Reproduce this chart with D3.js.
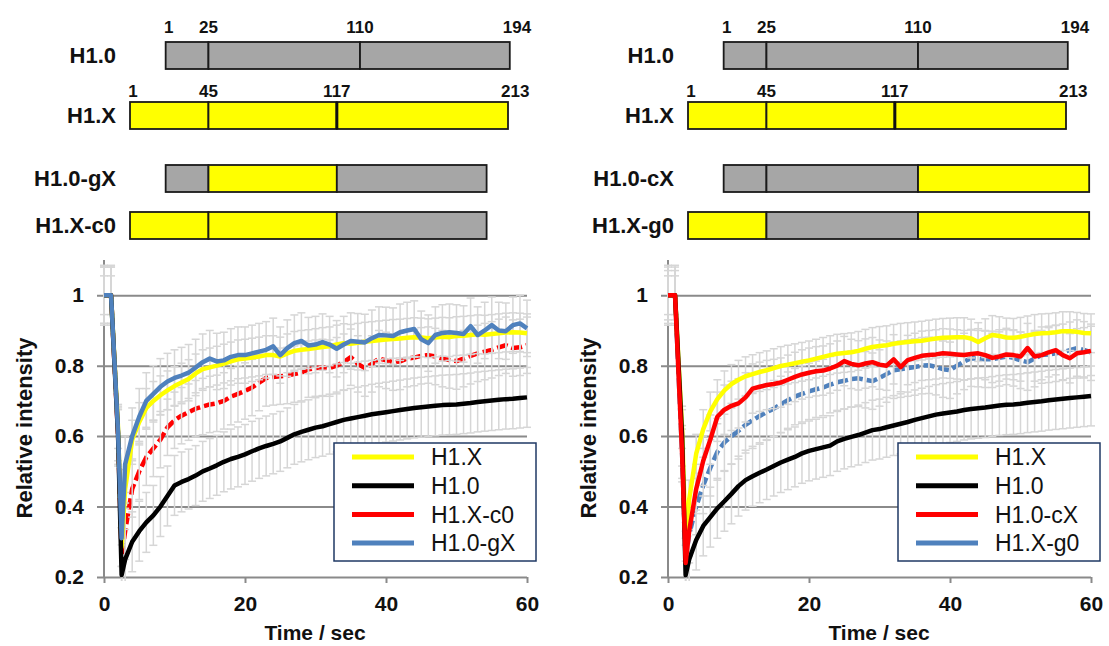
<!DOCTYPE html>
<html>
<head>
<meta charset="utf-8">
<script src="https://cdn.jsdelivr.net/npm/d3@7"></script>
<style>
  html, body { margin: 0; padding: 0; background: #fff; }
  svg { display: block; font-family: "Liberation Sans", Arial, sans-serif; }
</style>
</head>
<body>
<svg id="fig" width="1109" height="646"></svg>
<script>
// -- Data ------------------------------------------------------------
var TIME = [0, 1, 2, 2.5, 3,
  4, 5, 6, 7, 8, 9, 10, 11, 12, 13,
  14, 15, 16, 17, 18, 19, 20, 21, 22, 23,
  24, 25, 26, 27, 28, 29, 30, 31, 32, 33,
  34, 35, 36, 37, 38, 39, 40, 41, 42, 43,
  44, 45, 46, 47, 48, 49, 50, 51, 52, 53,
  54, 55, 56, 57, 58, 59, 60];

var X_TICKS = [0, 20, 40, 60];
var Y_TICKS = [0.2, 0.4, 0.6, 0.8, 1];

var SERIES_COLORS = ["#ffff00", "#000000", "#ff0000", "#4f81bd"];

// left panel
var LEFT_NAMES = ["H1.X", "H1.0", "H1.X-c0", "H1.0-gX"];
var LEFT_H1X = [1, 1, 0.62, 0.285, 0.45,
  0.59, 0.64, 0.68, 0.70, 0.716, 0.73, 0.742, 0.752, 0.762, 0.778,
  0.79, 0.795, 0.80, 0.806, 0.812, 0.818, 0.82, 0.823, 0.826, 0.83,
  0.83, 0.826, 0.835, 0.842, 0.845, 0.847, 0.85, 0.853, 0.855, 0.86,
  0.864, 0.862, 0.865, 0.868, 0.87, 0.872, 0.874, 0.876, 0.877, 0.879,
  0.881, 0.88, 0.878, 0.88, 0.882, 0.881, 0.884, 0.885, 0.887, 0.889,
  0.888, 0.89, 0.892, 0.894, 0.895, 0.894, 0.892];
var LEFT_H10 = [1, 1, 0.6, 0.206, 0.25,
  0.3, 0.33, 0.355, 0.375, 0.4, 0.43, 0.46, 0.47, 0.478, 0.488,
  0.5, 0.508, 0.517, 0.527, 0.535, 0.541, 0.548, 0.557, 0.565, 0.572,
  0.578, 0.585, 0.595, 0.605, 0.612, 0.618, 0.624, 0.628, 0.634, 0.64,
  0.646, 0.65, 0.654, 0.658, 0.662, 0.665, 0.668, 0.671, 0.674, 0.677,
  0.68, 0.682, 0.684, 0.686, 0.688, 0.689, 0.69, 0.692, 0.694, 0.697,
  0.699, 0.701, 0.703, 0.705, 0.706, 0.708, 0.71];
var LEFT_H1X_C0 = [1, 1, 0.6, 0.26, 0.33,
  0.45, 0.5, 0.54, 0.565, 0.59, 0.625, 0.645, 0.658, 0.668, 0.678,
  0.684, 0.69, 0.693, 0.7, 0.712, 0.72, 0.728, 0.738, 0.752, 0.765,
  0.768, 0.77, 0.772, 0.776, 0.78, 0.79, 0.793, 0.795, 0.793, 0.8,
  0.81, 0.824, 0.805, 0.793, 0.805, 0.82, 0.815, 0.81, 0.812, 0.82,
  0.823, 0.828, 0.83, 0.826, 0.82, 0.816, 0.813, 0.82, 0.828, 0.835,
  0.84, 0.845, 0.852, 0.858, 0.85, 0.852, 0.858];
var LEFT_H10_GX = [1, 1, 0.61, 0.31, 0.52,
  0.6, 0.655, 0.70, 0.72, 0.74, 0.755, 0.765, 0.772, 0.78, 0.795,
  0.81, 0.82, 0.812, 0.815, 0.825, 0.83, 0.83, 0.835, 0.84, 0.845,
  0.855, 0.83, 0.85, 0.864, 0.87, 0.857, 0.86, 0.867, 0.86, 0.848,
  0.86, 0.87, 0.868, 0.866, 0.878, 0.887, 0.886, 0.884, 0.895, 0.9,
  0.904, 0.875, 0.864, 0.887, 0.893, 0.895, 0.893, 0.89, 0.912, 0.887,
  0.9, 0.915, 0.9, 0.898, 0.915, 0.92, 0.906];
var LEFT_ERR = [0.055, 0.085, 0.08, 0.08];

// right panel
var RIGHT_NAMES = ["H1.X", "H1.0", "H1.0-cX", "H1.X-g0"];
var RIGHT_H1X = [1, 1, 0.62, 0.3, 0.42,
  0.55, 0.62, 0.67, 0.705, 0.73, 0.748, 0.76, 0.77, 0.776, 0.782,
  0.787, 0.793, 0.799, 0.803, 0.807, 0.811, 0.815, 0.82, 0.825, 0.83,
  0.834, 0.836, 0.838, 0.842, 0.848, 0.853, 0.856, 0.858, 0.862, 0.865,
  0.867, 0.869, 0.871, 0.874, 0.877, 0.879, 0.88, 0.881, 0.881, 0.877,
  0.867, 0.878, 0.887, 0.884, 0.88, 0.879, 0.882, 0.886, 0.89, 0.892,
  0.893, 0.895, 0.898, 0.898, 0.896, 0.893, 0.892];
var RIGHT_H10 = [1, 1, 0.6, 0.205, 0.25,
  0.305, 0.345, 0.37, 0.395, 0.415, 0.436, 0.458, 0.475, 0.486, 0.496,
  0.505, 0.515, 0.525, 0.533, 0.541, 0.551, 0.558, 0.563, 0.568, 0.573,
  0.585, 0.592, 0.598, 0.603, 0.61, 0.617, 0.62, 0.625, 0.63, 0.635,
  0.64, 0.646, 0.651, 0.656, 0.661, 0.664, 0.667, 0.67, 0.674, 0.677,
  0.679, 0.681, 0.684, 0.687, 0.689, 0.69, 0.692, 0.695, 0.697, 0.699,
  0.702, 0.704, 0.706, 0.708, 0.71, 0.712, 0.714];
var RIGHT_H10_CX = [1, 1, 0.55, 0.24, 0.33,
  0.45, 0.53, 0.59, 0.655, 0.675, 0.686, 0.693, 0.71, 0.735, 0.74,
  0.745, 0.748, 0.752, 0.76, 0.768, 0.775, 0.78, 0.784, 0.786, 0.792,
  0.8, 0.813, 0.805, 0.801, 0.806, 0.81, 0.803, 0.8, 0.818, 0.796,
  0.816, 0.822, 0.828, 0.83, 0.832, 0.835, 0.834, 0.832, 0.83, 0.833,
  0.835, 0.83, 0.822, 0.826, 0.832, 0.83, 0.826, 0.85, 0.826, 0.83,
  0.838, 0.844, 0.83, 0.821, 0.835, 0.838, 0.842];
var RIGHT_H1X_G0 = [1, 1, 0.55, 0.25, 0.32,
  0.4, 0.46, 0.51, 0.555, 0.582, 0.6, 0.615, 0.632, 0.645, 0.657,
  0.668, 0.678, 0.69, 0.702, 0.712, 0.72, 0.727, 0.733, 0.738, 0.746,
  0.753, 0.757, 0.762, 0.764, 0.76, 0.756, 0.765, 0.776, 0.787, 0.79,
  0.793, 0.796, 0.8, 0.801, 0.797, 0.79, 0.787, 0.8, 0.812, 0.821,
  0.82, 0.818, 0.818, 0.822, 0.826, 0.822, 0.815, 0.81, 0.82, 0.83,
  0.832, 0.835, 0.838, 0.844, 0.85, 0.845, 0.838];
var RIGHT_ERR = [0.055, 0.085, 0.07, 0.08];

// domain boundaries (residue numbers): N-tail | globular | C-tail
var H10_BOUNDS = [1, 25, 110, 194];
var H1X_BOUNDS = [1, 45, 117, 213];

// constructs: each segment = [source protein, domain index]
var LEFT_CONSTRUCTS = [
  { name: "H1.0",    segs: [["H1.0", 0], ["H1.0", 1], ["H1.0", 2]], numbers: H10_BOUNDS },
  { name: "H1.X",    segs: [["H1.X", 0], ["H1.X", 1], ["H1.X", 2]], numbers: H1X_BOUNDS },
  { name: "H1.0-gX", segs: [["H1.0", 0], ["H1.X", 1], ["H1.0", 2]] },
  { name: "H1.X-c0", segs: [["H1.X", 0], ["H1.X", 1], ["H1.0", 2]] }
];
var RIGHT_CONSTRUCTS = [
  { name: "H1.0",    segs: [["H1.0", 0], ["H1.0", 1], ["H1.0", 2]], numbers: H10_BOUNDS },
  { name: "H1.X",    segs: [["H1.X", 0], ["H1.X", 1], ["H1.X", 2]], numbers: H1X_BOUNDS },
  { name: "H1.0-cX", segs: [["H1.0", 0], ["H1.0", 1], ["H1.X", 2]] },
  { name: "H1.X-g0", segs: [["H1.X", 0], ["H1.0", 1], ["H1.X", 2]] }
];

// -- Styling -----------------------------------------------------------
var FONT = "'Liberation Sans', Arial, sans-serif";
var SEG_COLORS = { "H1.0": "#a6a6a6", "H1.X": "#ffff00" };
var BOUNDS = { "H1.0": H10_BOUNDS, "H1.X": H1X_BOUNDS };
var GRID = "#8a8a8a";
var ERRBAR = "#d6d6d6";

var svg = d3.select("#fig");

// -- Domain diagrams -------------------------------------------------
function drawDiagram(dx, constructs) {
  // residues counted from the start of the globular domain
  var rs = d3.scaleLinear().domain([-44, 168]).range([130 + dx, 508 + dx]);
  var rowY = [42, 102, 165, 212];
  var numGap = [9, 5];
  var rowH = 27;
  var g = svg.append("g");

  constructs.forEach(function (c, ci) {
    var y0 = rowY[ci];
    var lens = c.segs.map(function (s) {
      var b = BOUNDS[s[0]];
      return b[s[1] + 1] - b[s[1]];
    });
    var edges = [-lens[0]];
    lens.forEach(function (l, i) { edges.push(edges[i] + l); });

    c.segs.forEach(function (s, i) {
      g.append("rect")
        .attr("x", rs(edges[i]))
        .attr("y", y0)
        .attr("width", rs(edges[i + 1]) - rs(edges[i]))
        .attr("height", rowH)
        .attr("fill", SEG_COLORS[s[0]])
        .attr("stroke", "#1a1a1a")
        .attr("stroke-width", 1.8);
    });

    // the full H1.X has a heavier globular/C-tail divider
    if (c.numbers === H1X_BOUNDS) {
      g.append("line")
        .attr("x1", rs(edges[2])).attr("x2", rs(edges[2]))
        .attr("y1", y0).attr("y2", y0 + rowH)
        .attr("stroke", "#111").attr("stroke-width", 3);
    }

    g.append("text")
      .attr("x", 116 + dx).attr("y", y0 + rowH / 2)
      .attr("dy", "0.36em")
      .attr("text-anchor", "end")
      .attr("font-family", FONT).attr("font-weight", "bold")
      .attr("font-size", "22px").attr("fill", "#111")
      .text(c.name);

    if (c.numbers) {
      c.numbers.forEach(function (n, i) {
        var px = rs(edges[i]);
        var anchor = "middle";
        if (i === 0) px += 3;
        if (i === c.numbers.length - 1) { anchor = "start"; px -= 7; }
        g.append("text")
          .attr("x", px).attr("y", y0 - numGap[ci])
          .attr("text-anchor", anchor)
          .attr("font-family", FONT).attr("font-weight", "bold")
          .attr("font-size", "17px").attr("fill", "#111")
          .text(n);
      });
    }
  });
}

// -- Recovery charts -------------------------------------------------
function drawChart(ox, names, series, errs, dashIdx) {
  var W = 423;
  var x = d3.scaleLinear().domain([0, 60]).range([ox, ox + W]);
  var y = d3.scaleLinear().domain([0.2, 1.1]).range([577, 260]);
  var g = svg.append("g");

  // gridlines + y ticks
  var yAxis = d3.axisLeft(y).tickValues(Y_TICKS)
    .tickSizeInner(-W).tickSizeOuter(0)
    .tickFormat(function (d) { return d === 1 ? "1" : d3.format(".1f")(d); });
  var ya = g.append("g").attr("transform", "translate(" + ox + ",0)").call(yAxis);
  ya.select(".domain").remove();
  ya.selectAll(".tick line").attr("x1", -7).attr("x2", W)
    .attr("stroke", GRID).attr("stroke-width", 2);
  ya.selectAll(".tick text").attr("x", -20)
    .attr("font-family", FONT).attr("font-weight", "bold")
    .attr("font-size", "21px").attr("fill", "#111");

  // y axis line
  g.append("line")
    .attr("x1", x(0)).attr("x2", x(0))
    .attr("y1", y(1.1)).attr("y2", y(0.2))
    .attr("stroke", GRID).attr("stroke-width", 2);

  // x ticks
  var xAxis = d3.axisBottom(x).tickValues(X_TICKS).tickSize(6).tickSizeOuter(0);
  var xa = g.append("g").attr("transform", "translate(0," + y(0.2) + ")").call(xAxis);
  xa.select(".domain").remove();
  xa.selectAll(".tick line").attr("stroke", GRID).attr("stroke-width", 2);
  xa.selectAll(".tick text").attr("y", 19)
    .attr("font-family", FONT).attr("font-weight", "bold")
    .attr("font-size", "21px").attr("fill", "#111");

  // axis titles
  g.append("text")
    .attr("transform", "translate(" + (ox - 80) + "," + 428 + ") rotate(-90)")
    .attr("text-anchor", "middle").attr("dy", "0.36em")
    .attr("font-family", FONT).attr("font-weight", "bold")
    .attr("font-size", "22px").attr("fill", "#111")
    .text("Relative intensity");
  g.append("text")
    .attr("x", ox + 211).attr("y", 640)
    .attr("text-anchor", "middle")
    .attr("font-family", FONT).attr("font-weight", "bold")
    .attr("font-size", "21px").attr("fill", "#111")
    .text("Time / sec");

  var clipId = "clip" + ox;
  svg.append("clipPath").attr("id", clipId).append("rect")
    .attr("x", x(0) - 6).attr("y", y(1.1)).attr("width", W + 12).attr("height", y(0.2) - y(1.1) + 4);
  var plot = g.append("g").attr("clip-path", "url(#" + clipId + ")");

  var line = d3.line()
    .x(function (d, i) { return x(TIME[i]); })
    .y(function (d) { return y(d); });

  function drawLine(si) {
    plot.append("path")
      .datum(series[si])
      .attr("fill", "none")
      .attr("stroke", SERIES_COLORS[si])
      .attr("stroke-width", 4.5)
      .attr("stroke-linejoin", "round")
      .attr("stroke-dasharray", si === dashIdx ? "11 4" : null)
      .attr("d", line);
  }

  // obscured series sits below the error bars
  drawLine(dashIdx);

  // error bars
  series.forEach(function (vals, si) {
    var eb = plot.append("g").attr("stroke", ERRBAR).attr("stroke-width", 1.5);
    vals.forEach(function (v, i) {
      var cx = x(TIME[i]);
      var lo = y(v - errs[si]), hi = y(v + errs[si]);
      eb.append("line").attr("x1", cx).attr("x2", cx).attr("y1", lo).attr("y2", hi);
      eb.append("line").attr("x1", cx - 4).attr("x2", cx + 4).attr("y1", lo).attr("y2", lo);
      eb.append("line").attr("x1", cx - 4).attr("x2", cx + 4).attr("y1", hi).attr("y2", hi);
    });
  });

  series.forEach(function (vals, si) { if (si !== dashIdx) drawLine(si); });

  // legend
  var lx = ox + 230, ly = 443, lw = 202, lh = 118;
  var lg = g.append("g");
  lg.append("rect").attr("x", lx).attr("y", ly).attr("width", lw).attr("height", lh)
    .attr("fill", "#fff").attr("stroke", "#1f3864").attr("stroke-width", 1.5);
  names.forEach(function (n, i) {
    var ry = ly + 14 + i * 28.7;
    lg.append("line").attr("x1", lx + 18).attr("x2", lx + 80)
      .attr("y1", ry).attr("y2", ry)
      .attr("stroke", SERIES_COLORS[i]).attr("stroke-width", 5);
    lg.append("text").attr("x", lx + 97).attr("y", ry).attr("dy", "0.36em")
      .attr("font-family", FONT).attr("font-size", "23px").attr("fill", "#111")
      .text(n);
  });
}

drawDiagram(0, LEFT_CONSTRUCTS);
drawDiagram(558, RIGHT_CONSTRUCTS);

drawChart(104, LEFT_NAMES, [LEFT_H1X, LEFT_H10, LEFT_H1X_C0, LEFT_H10_GX], LEFT_ERR, 2);
drawChart(668, RIGHT_NAMES, [RIGHT_H1X, RIGHT_H10, RIGHT_H10_CX, RIGHT_H1X_G0], RIGHT_ERR, 3);
</script>
</body>
</html>
